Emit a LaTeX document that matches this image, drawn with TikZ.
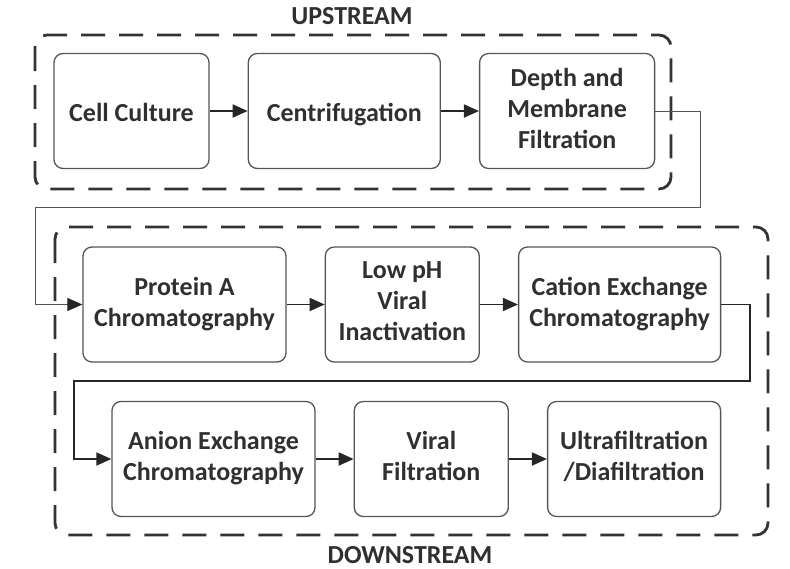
\documentclass[tikz,border=0pt]{standalone}
\usepackage{fontspec}
\setmainfont{Carlito}
\usetikzlibrary{arrows.meta, positioning}
\definecolor{boxgray}{HTML}{555555}
\definecolor{textgray}{HTML}{303030}

\begin{document}
\begin{tikzpicture}[
    x=1pt, y=-1pt,
    node distance=38pt,
    font=\bfseries\fontsize{26}{31}\selectfont,
    box/.style={rectangle, draw=boxgray, line width=1.3pt, rounded corners=9pt, align=center, text=textgray, minimum height=115pt, inner sep=0pt,
        execute at begin node=\rule{0pt}{26pt}, execute at end node=\rule[-6pt]{0pt}{0pt}},
    frame/.style={draw=black!80, line width=2.8pt, dash pattern=on 24pt off 14pt, rounded corners=12pt},
    stagelabel/.style={anchor=base, inner sep=0pt, text=textgray},
    arrow/.style={-{Triangle[length=15pt,width=13pt]}, line width=1.8pt, draw=black!85},
    link/.style={-{Triangle[length=15pt,width=13pt, color=black!85, fill=black!85]}, line width=1pt, draw=boxgray}
]
\useasboundingbox (0,0) rectangle (790,568);

% stage frames
\draw[frame] (35,35) rectangle (671,189);
\draw[frame] (55,227) rectangle (768,535);
\node[stagelabel] (uplabel) at (352,24) {UPSTREAM};
\node[stagelabel] (downlabel) at (410,563) {DOWNSTREAM};

% upstream row
\node[box, minimum width=155pt] (cell) at (131.5,111) {Cell Culture};
\node[box, minimum width=192pt, right=of cell] (centri) {Centrifugation};
\node[box, minimum width=175pt, right=of centri] (depth) {Depth and\\Membrane\\Filtration};

% downstream rows
\node[box, minimum width=203pt] (protein) at (184.5,304.5) {Protein A\\Chromatography};
\node[box, minimum width=154pt, right=of protein] (lowph) {Low pH\\Viral\\Inactivation};
\node[box, minimum width=202pt, right=of lowph] (cation) {Cation Exchange\\Chromatography};
\node[box, minimum width=203pt] (anion) at (213.5,459) {Anion Exchange\\Chromatography};
\node[box, minimum width=154pt, right=of anion] (viral) {Viral\\Filtration};
\node[box, minimum width=173pt, right=of viral] (ultra) {Ultrafiltration\\/Diafiltration};

% turning points
\coordinate (upturn) at (700,207);
\coordinate (upback) at (35,207);
\coordinate (rowturn) at (750,381);
\coordinate (rowback) at (74,381);

\draw[arrow] (cell) -- (centri);
\draw[arrow] (centri) -- (depth);
\draw[link] (depth.east) -| (upturn) -- (upback) |- (protein.west);
\draw[arrow] (protein) -- (lowph);
\draw[arrow] (lowph) -- (cation);
\draw[arrow] (cation.east) -| (rowturn) -- (rowback) |- (anion.west);
\draw[arrow] (anion) -- (viral);
\draw[arrow] (viral) -- (ultra);

\end{tikzpicture}
\end{document}
